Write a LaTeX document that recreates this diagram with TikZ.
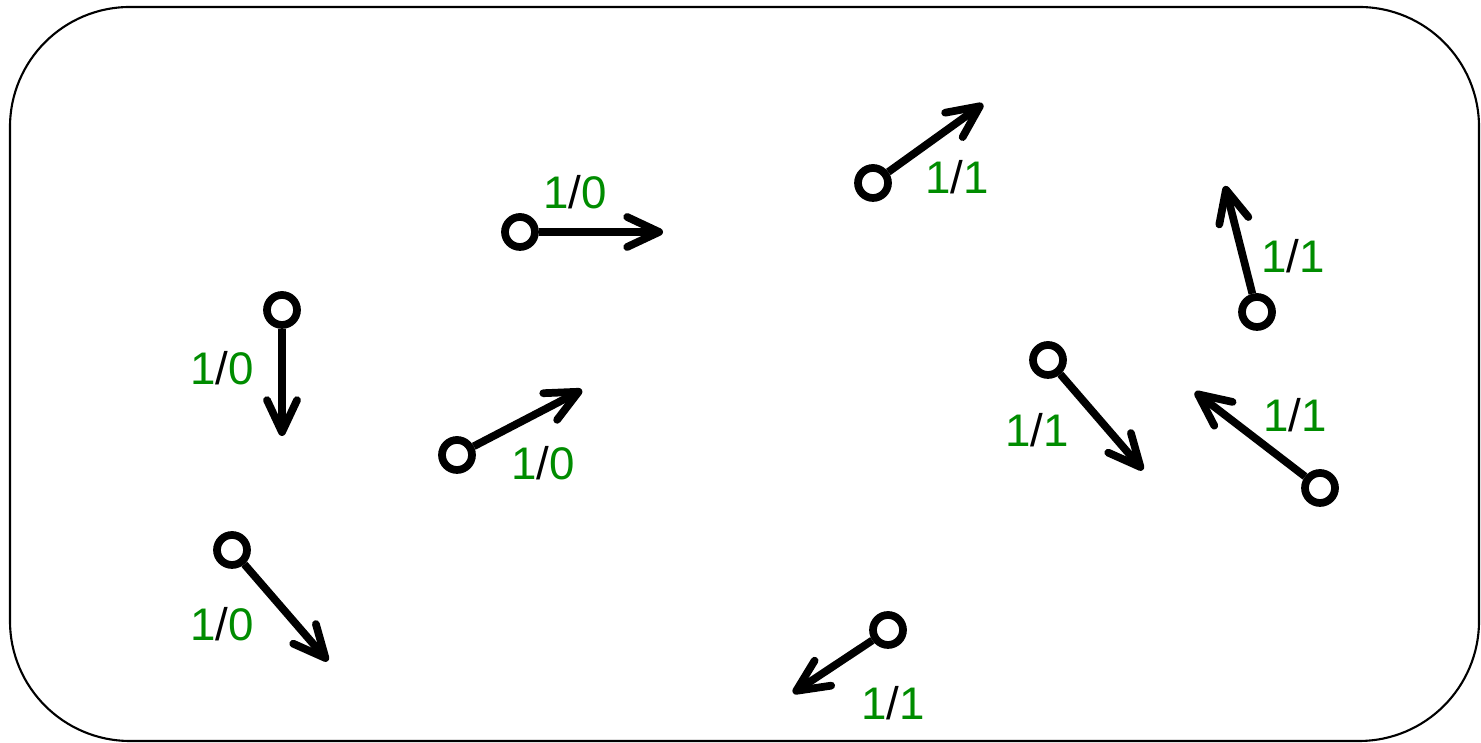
\documentclass[tikz,border=0pt]{standalone}
\usepackage{fontspec}
\setmainfont{Liberation Sans}
\usepackage{xcolor}
\usetikzlibrary{arrows.meta}
\definecolor{spingreen}{RGB}{0,140,0}
\newcommand{\spinlbl}[2]{\textcolor{spingreen}{#1}/\textcolor{spingreen}{#2}}

\begin{document}
\begin{tikzpicture}[
  dot/.style={circle, draw, fill=white, line width=2.2pt, inner sep=0pt, minimum size=0.30cm},
  vec/.style={line width=2.2pt, -{Straight Barb[round, length=3.2mm, width=3mm]}},
  lbl/.style={inner sep=0pt, font=\fontsize{13}{15}\selectfont}
]
  \useasboundingbox (0,0) rectangle (14.81,7.43);
  \draw[line width=0.6pt, rounded corners=1.2cm] (0.10,0.02) rectangle (14.79,7.36);
  % particles: name / circle / tip / label / value
  \foreach \n/\cx/\cy/\tx/\ty/\lx/\ly/\v in {
      1/5.20/5.11/6.63/5.11/5.75/5.51/0,
      2/8.73/5.60/9.83/6.39/9.57/5.66/1,
      3/12.57/4.31/12.25/5.57/12.93/4.87/1,
      4/10.48/3.83/11.43/2.73/10.37/3.13/1,
      5/13.20/2.55/11.95/3.51/12.95/3.28/1,
      6/8.88/1.13/7.93/0.50/8.93/0.40/1,
      7/2.82/4.33/2.82/3.07/2.22/3.75/0,
      8/4.57/2.88/5.82/3.53/5.43/2.80/0,
      9/2.32/1.93/3.28/0.82/2.22/1.19/0} {
    \node[dot] (p\n) at (\cx,\cy) {};
    \coordinate (t\n) at (\tx,\ty);
    \draw[vec] (p\n) -- (t\n);
    \node[lbl] (l\n) at (\lx,\ly) {\spinlbl{1}{\v}};
  }
\end{tikzpicture}
\end{document}
